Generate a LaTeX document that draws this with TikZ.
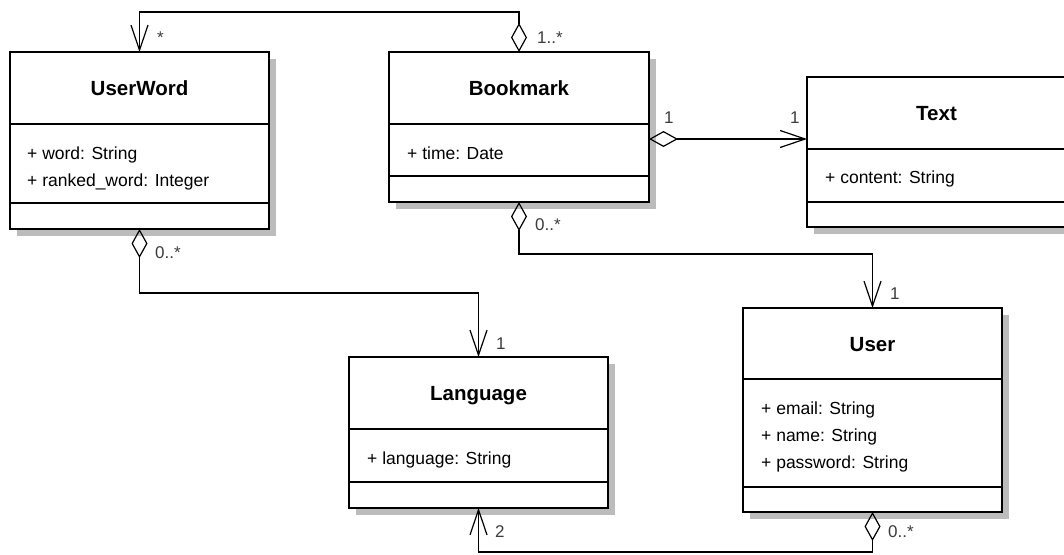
\documentclass[tikz,border=0pt]{standalone}
\usepackage{fontspec}
\setmainfont{Liberation Sans}
\usetikzlibrary{arrows.meta,shadows}
\definecolor{shadowgray}{RGB}{188,188,188}
\definecolor{multgray}{RGB}{60,60,60}
\tikzset{
 cls/.style={draw, line width=1.6pt, fill=white, inner sep=0pt, outer sep=0pt, minimum width=259pt,
   drop shadow={shadow xshift=7pt, shadow yshift=-7pt, fill=shadowgray, opacity=1}},
 sepline/.style={line width=1.3pt},
 title/.style={anchor=base, inner sep=0pt, font=\fontsize{20.5pt}{23pt}\selectfont\bfseries},
 attr/.style={anchor=base west, inner sep=0pt, font=\fontsize{17.5pt}{20pt}\selectfont},
 mult/.style={anchor=base west, inner sep=0pt, text=multgray, font=\fontsize{17pt}{20pt}\selectfont},
 assoc/.style={line width=1.2pt, {Diamond[open,length=29pt,width=16pt]}-{Straight Barb[length=25pt,width=17pt]}},
}
\begin{document}
\begin{tikzpicture}[x=1pt,y=-1pt]
\useasboundingbox (0,0) rectangle (1064,554);
\clip (0,0) rectangle (1064,554);
% class boxes
\node[cls, minimum height=177pt] (UW) at (139.5,140.5) {};
\node[cls, minimum width=260pt, minimum height=150pt] (BM) at (519,127) {};
\node[cls, minimum height=150pt] (TX) at (936.5,152) {};
\node[cls, minimum height=151pt] (LG) at (478.5,432.5) {};
\node[cls, minimum height=204pt] (US) at (872.5,410) {};
% compartments
\draw[sepline] (UW.west |- 0,124) -- (UW.east |- 0,124);
\draw[sepline] (UW.west |- 0,203) -- (UW.east |- 0,203);
\draw[sepline] (BM.west |- 0,124) -- (BM.east |- 0,124);
\draw[sepline] (BM.west |- 0,176) -- (BM.east |- 0,176);
\draw[sepline] (TX.west |- 0,149) -- (TX.east |- 0,149);
\draw[sepline] (TX.west |- 0,202) -- (TX.east |- 0,202);
\draw[sepline] (LG.west |- 0,429) -- (LG.east |- 0,429);
\draw[sepline] (LG.west |- 0,482) -- (LG.east |- 0,482);
\draw[sepline] (US.west |- 0,379) -- (US.east |- 0,379);
\draw[sepline] (US.west |- 0,487) -- (US.east |- 0,487);
% titles
\node[title] (UWt) at (139.5,95) {UserWord};
\node[title] (BMt) at (519,95) {Bookmark};
\node[title] (TXt) at (936.5,120) {Text};
\node[title] (LGt) at (478.5,400) {Language};
\node[title] (USt) at (872.5,351) {User};
% attributes
\node[attr] (UWa1) at (27,159) {+ word: String};
\node[attr] (UWa2) at (27,186) {+ ranked\_word: Integer};
\node[attr] (BMa1) at (407,159) {+ time: Date};
\node[attr] (TXa1) at (825,183) {+ content: String};
\node[attr] (LGa1) at (367,464) {+ language: String};
\node[attr] (USa1) at (761,414) {+ email: String};
\node[attr] (USa2) at (761,441) {+ name: String};
\node[attr] (USa3) at (761,468) {+ password: String};
% associations
\draw[assoc] (BM.north) -- (BM.north |- 0,12) -| (UW.north);
\draw[assoc] (BM.east |- 0,139) -- (TX.west |- 0,139);
\draw[assoc] (BM.south) -- (BM.south |- 0,254) -| (US.north);
\draw[assoc] (UW.south) -- (UW.south |- 0,293) -| (LG.north);
\draw[assoc] (US.south) -- (US.south |- 0,552) -| (LG.south);
% multiplicities
\node[mult] (m1) at (157,43) {*};
\node[mult] (m2) at (537,43) {1..*};
\node[mult] (m3) at (664,123) {1};
\node[mult] (m4) at (790,123) {1};
\node[mult] (m5) at (535,230) {0..*};
\node[mult] (m6) at (155,258) {0..*};
\node[mult] (m7) at (496,349) {1};
\node[mult] (m8) at (890,299) {1};
\node[mult] (m9) at (495,537) {2};
\node[mult] (m10) at (888,537) {0..*};
\end{tikzpicture}
\end{document}
